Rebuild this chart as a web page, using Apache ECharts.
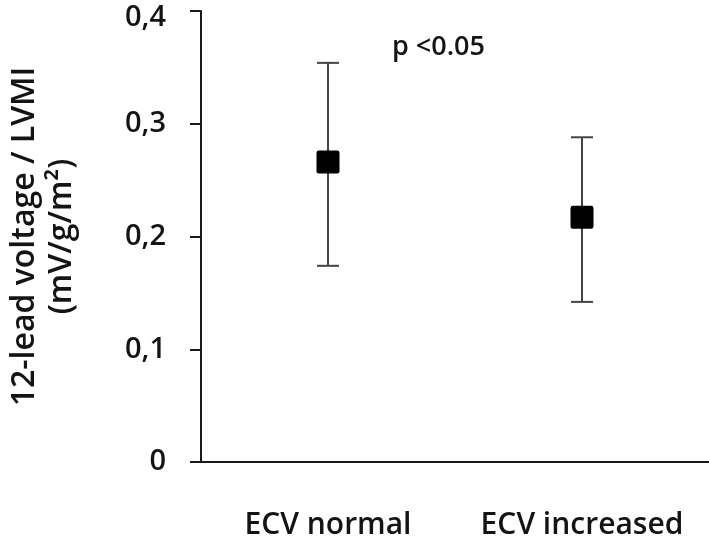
<!DOCTYPE html>
<html>
<head>
<meta charset="utf-8">
<script src="https://cdn.jsdelivr.net/npm/echarts@6/dist/echarts.min.js"></script>
<style>
html,body{margin:0;padding:0;background:#fff;}
#chart{width:709px;height:542px;}
</style>
</head>
<body>
<div id="chart"></div>
<script>
var categories = ['ECV normal', 'ECV increased'];
var means = [0.266, 0.217];
var upper = [0.354, 0.288];
var lower = [0.174, 0.142];
var yTicks = [0, 0.1, 0.2, 0.3, 0.4];
var yAxisTitle = ['12-lead voltage / LVMI', '(mV/g/m\u00B2)'];
var annotation = 'p <0.05';

var FONT = '"Open Sans", "Noto Sans", sans-serif';
var TXT = '#141414';
var FW = 600;
var chart = echarts.init(document.getElementById('chart'));

var errData = categories.map(function (c, i) { return [i, lower[i], upper[i]]; });

chart.setOption({
  animation: false,
  grid: { left: 201, right: 0, top: 11, bottom: 80, containLabel: false, outerBoundsMode: 'none' },
  xAxis: {
    type: 'category',
    data: categories,
    boundaryGap: true,
    axisLine: { lineStyle: { color: '#1a1a1a', width: 2 } },
    axisTick: { show: false },
    axisLabel: { color: TXT, fontSize: 30, fontWeight: FW, fontFamily: FONT, margin: 48, interval: 0, hideOverlap: false }
  },
  yAxis: {
    type: 'value',
    min: 0, max: 0.4, interval: 0.1,
    name: yAxisTitle.join('\n'),
    nameLocation: 'middle',
    nameGap: 121,
    nameTextStyle: { color: TXT, fontSize: 32, fontWeight: FW, fontFamily: FONT, lineHeight: 37 },
    axisLine: { show: true, lineStyle: { color: '#1a1a1a', width: 2 } },
    axisTick: { show: true, length: 11, lineStyle: { color: '#1a1a1a', width: 2 } },
    splitLine: { show: false },
    axisLabel: {
      color: TXT, fontSize: 29, fontWeight: FW, fontFamily: FONT, margin: 35,
      formatter: function (v) {
        var t = yTicks.filter(function (x) { return Math.abs(x - v) < 1e-9; })[0];
        var s = t === 0 ? '0' : String(t).replace('.', ',');
        return t === yTicks[yTicks.length - 1] ? '{top|' + s + '}' : s;
      },
      rich: {
        top: { color: TXT, fontSize: 29, fontWeight: FW, fontFamily: FONT, padding: [13, 0, 0, 0] }
      }
    }
  },
  graphic: [{
    type: 'text', left: 392, top: 34,
    style: { text: annotation, fontSize: 27, fontWeight: FW, fontFamily: FONT, fill: TXT }
  }],
  series: [{
    type: 'custom',
    data: errData,
    renderItem: function (params, api) {
      var x = api.value(0);
      var lo = api.coord([x, api.value(1)]);
      var hi = api.coord([x, api.value(2)]);
      var hw = 11;
      var st = { stroke: '#444', lineWidth: 2 };
      return {
        type: 'group',
        children: [
          { type: 'line', shape: { x1: lo[0], y1: lo[1], x2: hi[0], y2: hi[1] }, style: st },
          { type: 'line', shape: { x1: lo[0] - hw, y1: lo[1], x2: lo[0] + hw, y2: lo[1] }, style: st },
          { type: 'line', shape: { x1: hi[0] - hw, y1: hi[1], x2: hi[0] + hw, y2: hi[1] }, style: st }
        ]
      };
    },
    z: 1
  }, {
    type: 'scatter',
    data: means,
    symbol: 'path://M1,0 H9 Q10,0 10,1 V9 Q10,10 9,10 H1 Q0,10 0,9 V1 Q0,0 1,0 Z',
    symbolSize: 23,
    itemStyle: { color: '#000', opacity: 1 },
    z: 2
  }]
});
</script>
</body>
</html>
